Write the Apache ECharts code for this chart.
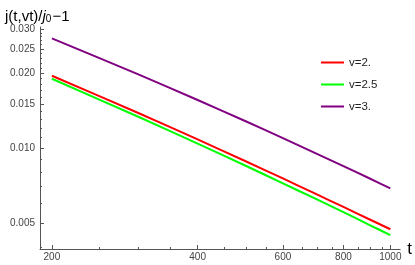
<!DOCTYPE html>
<html><head><meta charset="utf-8">
<script src="https://cdn.jsdelivr.net/npm/echarts@6/dist/echarts.min.js"></script>
<style>html,body{margin:0;padding:0;background:#fff}#c{width:415px;height:265px}</style>
</head><body><div id="c"></div>
<script>
const tValues = [200, 300, 400, 500, 600, 700, 800, 900, 1000];
const seriesNames = ['v=2.', 'v=2.5', 'v=3.'];
const v2  = [0.01951, 0.01389, 0.01083, 0.00889, 0.00755, 0.00656, 0.00580, 0.00520, 0.00472];
const v25 = [0.01898, 0.01342, 0.01042, 0.00853, 0.00722, 0.00626, 0.00553, 0.00494, 0.00447];
const v3  = [0.02758, 0.01986, 0.01560, 0.01287, 0.01096, 0.00955, 0.00846, 0.00760, 0.00689];
const xMajorTicks = [200, 400, 600, 800, 1000];
const xMinorTicks = [250, 300, 350, 450, 500, 550, 650, 700, 750, 850, 900, 950];
const yMajorTicks = [0.005, 0.010, 0.015, 0.020, 0.025, 0.030];
const yMinorTicks = [0.004, 0.006, 0.007, 0.008, 0.009, 0.011, 0.012, 0.013, 0.014, 0.016, 0.017, 0.018, 0.019, 0.021, 0.022, 0.023, 0.024, 0.026, 0.027, 0.028, 0.029];
const colors = ['#ff0000', '#00ff00', '#800080'];

const L = Math.log10;
const xMin = L(189), xMax = L(1048), yMin = L(0.003932), yMax = L(0.03063);
const gridBox = {left: 40, right: 12, top: 27, bottom: 16};
const axisColor = '#555';
const font = 'Liberation Sans, Arial, sans-serif';

function series(name, vals, color) {
  return {
    name: name, type: 'line', xAxisIndex: 0, yAxisIndex: 0,
    data: tValues.map((t, i) => [L(t), L(vals[i])]),
    showSymbol: false, smooth: 0.2,
    lineStyle: {color: color, width: 2}, itemStyle: {color: color},
    animation: false
  };
}

const chart = echarts.init(document.getElementById('c'), null, {renderer: 'canvas'});
chart.setOption({
  animation: false,
  title: {
    left: 0, top: 1,
    text: '{a|j(t,vt)/}{i|j}{s|0}{a|−1}',
    textStyle: {
      fontWeight: 'normal',
      rich: {
        a: {fontFamily: font, fontSize: 15, fontWeight: 'normal', color: '#000', lineHeight: 18, verticalAlign: 'bottom'},
        i: {fontFamily: font, fontSize: 15, fontWeight: 'normal', fontStyle: 'italic', color: '#000', lineHeight: 18, verticalAlign: 'bottom'},
        s: {fontFamily: font, fontSize: 10, fontWeight: 'normal', color: '#000', lineHeight: 12, verticalAlign: 'bottom', padding: [0, 1, 0, 0]}
      }
    }
  },
  legend: {
    orient: 'vertical', left: 316, top: 51,
    itemWidth: 23, itemHeight: 2, itemGap: 9, icon: 'rect',
    data: seriesNames,
    textStyle: {fontFamily: font, fontSize: 11.5, color: '#222', lineHeight: 13}
  },
  grid: [
    Object.assign({containLabel: false}, gridBox),
    Object.assign({containLabel: false}, gridBox)
  ],
  xAxis: [
    {
      type: 'value', gridIndex: 0, min: xMin, max: xMax, position: 'bottom',
      name: 't', nameLocation: 'end', nameGap: 4,
      nameTextStyle: {fontFamily: font, fontSize: 17, color: '#000', verticalAlign: 'middle'},
      axisLine: {show: true, lineStyle: {color: axisColor, width: 1}},
      axisTick: {show: true, inside: true, length: 4, lineStyle: {color: axisColor}, customValues: xMajorTicks.map(L)},
      axisLabel: {show: true, margin: 3, fontFamily: font, fontSize: 10, color: '#444',
        customValues: xMajorTicks.map(L), formatter: v => String(Math.round(Math.pow(10, v)))},
      splitLine: {show: false}
    },
    {
      type: 'value', gridIndex: 1, min: xMin, max: xMax, position: 'bottom',
      axisLine: {show: false},
      axisTick: {show: true, inside: true, length: 2, lineStyle: {color: axisColor}, customValues: xMinorTicks.map(L)},
      axisLabel: {show: false},
      splitLine: {show: false}
    }
  ],
  yAxis: [
    {
      type: 'value', gridIndex: 0, min: yMin, max: yMax, position: 'left',
      axisLine: {show: true, lineStyle: {color: axisColor, width: 1}},
      axisTick: {show: true, inside: true, length: 4, lineStyle: {color: axisColor}, customValues: yMajorTicks.map(L)},
      axisLabel: {show: true, margin: 5, fontFamily: font, fontSize: 10, color: '#444',
        customValues: yMajorTicks.map(L), formatter: v => Math.pow(10, v).toFixed(3)},
      splitLine: {show: false}
    },
    {
      type: 'value', gridIndex: 1, min: yMin, max: yMax, position: 'left',
      axisLine: {show: false},
      axisTick: {show: true, inside: true, length: 2, lineStyle: {color: axisColor}, customValues: yMinorTicks.map(L)},
      axisLabel: {show: false},
      splitLine: {show: false}
    }
  ],
  series: [
    series(seriesNames[0], v2, colors[0]),
    series(seriesNames[1], v25, colors[1]),
    series(seriesNames[2], v3, colors[2])
  ]
});
</script>
</body></html>
